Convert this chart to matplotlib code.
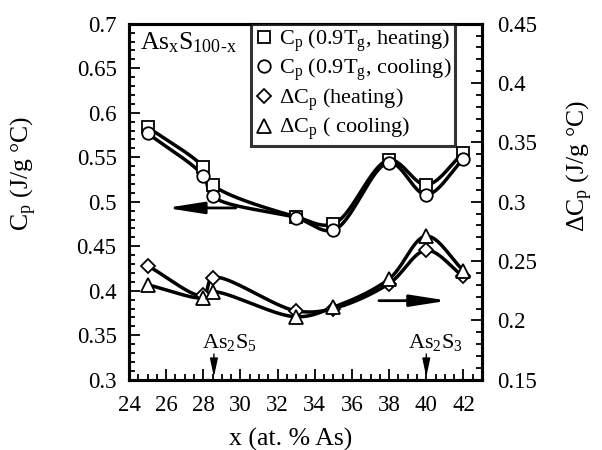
import numpy as np
import matplotlib
matplotlib.use("Agg")
import matplotlib.pyplot as plt
from matplotlib.lines import Line2D
from matplotlib.ticker import MultipleLocator

plt.rcParams['font.family'] = ['Liberation Serif', 'DejaVu Serif']
plt.rcParams['mathtext.default'] = 'regular'
plt.rcParams['font.size'] = 16

# composition (at. % As)
x = [25, 28, 28.5, 33, 35, 38, 40, 42]
# Cp at 0.9Tg (J/g C)
cp_heat = [0.584, 0.539, 0.519, 0.483, 0.475, 0.547, 0.519, 0.555]
cp_cool = [0.577, 0.529, 0.506, 0.482, 0.468, 0.544, 0.508, 0.548]
# Delta Cp at Tg (J/g C)
dcp_heat = [0.246, 0.221, 0.236, 0.208, 0.210, 0.231, 0.259, 0.237]
dcp_cool = [0.230, 0.219, 0.224, 0.203, 0.211, 0.235, 0.271, 0.242]


def smooth(xs, ys, sx, sy, n=40):
    # centripetal Catmull-Rom curve through the points, done in scaled units
    P = np.column_stack([np.asarray(xs, float) * sx, np.asarray(ys, float) * sy])
    P = np.vstack([2 * P[0] - P[1], P, 2 * P[-1] - P[-2]])
    pts = []
    for i in range(1, len(P) - 2):
        p0, p1, p2, p3 = P[i - 1], P[i], P[i + 1], P[i + 2]
        t0 = 0.0
        t1 = t0 + np.linalg.norm(p1 - p0) ** 0.5
        t2 = t1 + np.linalg.norm(p2 - p1) ** 0.5
        t3 = t2 + np.linalg.norm(p3 - p2) ** 0.5
        t = np.linspace(t1, t2, n)[:, None]
        a1 = (t1 - t) / (t1 - t0) * p0 + (t - t0) / (t1 - t0) * p1
        a2 = (t2 - t) / (t2 - t1) * p1 + (t - t1) / (t2 - t1) * p2
        a3 = (t3 - t) / (t3 - t2) * p2 + (t - t2) / (t3 - t2) * p3
        b1 = (t2 - t) / (t2 - t0) * a1 + (t - t0) / (t2 - t0) * a2
        b2 = (t3 - t) / (t3 - t1) * a2 + (t - t1) / (t3 - t1) * a3
        c = (t2 - t) / (t2 - t1) * b1 + (t - t1) / (t2 - t1) * b2
        pts.append(c)
    pts = np.vstack(pts)
    return pts[:, 0] / sx, pts[:, 1] / sy


fig = plt.figure(figsize=(6.02, 4.5), dpi=100)
ax = fig.add_axes([0.2143, 0.1562, 0.5864, 0.7911])
ax2 = ax.twinx()

ax.set_xlim(24, 43)
ax.set_ylim(0.3, 0.7)
ax2.set_ylim(0.15, 0.45)

sx = 18.6
lw = 2.5
mk = dict(color='black', markerfacecolor='white', markeredgecolor='black',
          markeredgewidth=1.3, linestyle='none')

for ys, m in [(cp_heat, 's'), (cp_cool, 'o')]:
    xs_, ys_ = smooth(x, ys, sx, 356 / 0.4)
    ax.plot(xs_, ys_, color='black', lw=lw, solid_capstyle='round', zorder=3)
    ax.plot(x, ys, marker=m, markersize=9, zorder=5, **mk)

for ys, m, ms in [(dcp_heat, 'D', 7.5), (dcp_cool, '^', 9.5)]:
    xs_, ys_ = smooth(x, ys, sx, 356 / 0.3)
    ax2.plot(xs_, ys_, color='black', lw=lw, solid_capstyle='round', zorder=3)
    ax2.plot(x, ys, marker=m, markersize=ms, zorder=5, **mk)

# axis direction arrows
ax.annotate('', xy=(25.85, 0.493), xytext=(29.9, 0.493),
            arrowprops=dict(arrowstyle='-|>,head_length=1.4,head_width=0.22',
                            color='black', lw=2))
ax2.annotate('', xy=(41.3, 0.2166), xytext=(37.3, 0.2166),
             arrowprops=dict(arrowstyle='-|>,head_length=1.4,head_width=0.22',
                             color='black', lw=2))

# stoichiometric compositions
for xc, lab, dx in [(28.57, 'As$_2$S$_5$', -0.62), (40.0, 'As$_2$S$_3$', -1.0)]:
    ax.annotate('', xy=(xc, 0.3), xytext=(xc, 0.332),
                arrowprops=dict(arrowstyle='-|>,head_length=0.7,head_width=0.15',
                                color='black', lw=1))
    ax.text(xc + dx, 0.354, lab, ha='left', va='top', fontsize=16)

ax.text(0.03, 0.98, 'As$_x$S$_{100\u2010x}$', transform=ax.transAxes,
        ha='left', va='top', fontsize=18.5)

# ticks and spines
ax.xaxis.set_major_locator(MultipleLocator(2))
ax.xaxis.set_minor_locator(MultipleLocator(0.5))
ax.yaxis.set_major_locator(MultipleLocator(0.05))
ax.yaxis.set_minor_locator(MultipleLocator(0.01))
ax2.yaxis.set_major_locator(MultipleLocator(0.05))
ax2.yaxis.set_minor_locator(MultipleLocator(0.01))
ax.set_yticklabels([f'{v:g}' for v in ax.get_yticks()])
ax2.set_yticklabels([f'{v:g}' for v in ax2.get_yticks()])

ax.tick_params(which='both', direction='in', top=False, right=False, width=1.3)
ax.tick_params(which='major', length=8, labelsize=16.5)
ax.tick_params(which='minor', length=4)
ax.tick_params(axis='x', pad=11)
ax.tick_params(axis='y', pad=9)
ax2.tick_params(which='both', direction='in', width=1.3)
ax2.tick_params(which='major', length=8, labelsize=16.5, pad=11)
ax2.tick_params(which='minor', length=4)
for a in (ax, ax2):
    for s in a.spines.values():
        s.set_linewidth(2.2)

ax.set_xlabel('x (at. % As)', fontsize=18.5)
ax.xaxis.set_label_coords(0.458, -0.135)
ax.set_ylabel('C$_p$ (J/g °C)', fontsize=18.5)
ax.yaxis.set_label_coords(-0.255, 0.58)
ax2.set_ylabel('ΔC$_p$ (J/g °C)', fontsize=18.5)
ax2.yaxis.set_label_coords(1.235, 0.6)

handles = [Line2D([], [], marker=m, markersize=s, **mk)
           for m, s in [('s', 9), ('o', 9), ('D', 7.5), ('^', 9.5)]]
labels = ['C$_p$ (0.9T$_g$, heating)', 'C$_p$ (0.9T$_g$, cooling)',
          'ΔC$_p$ (heating)', 'ΔC$_p$ ( cooling)']
leg = ax2.legend(handles, labels, loc='upper right', bbox_to_anchor=(0.9235, 1.0),
                 borderaxespad=0, fancybox=False, frameon=True, fontsize=16,
                 handlelength=0.8, handletextpad=0.3, borderpad=0.15,
                 labelspacing=0.14)
leg.get_frame().set_edgecolor('black')
leg.get_frame().set_linewidth(2.2)
leg.set_zorder(10)

fig.savefig('out.png', dpi=100)
